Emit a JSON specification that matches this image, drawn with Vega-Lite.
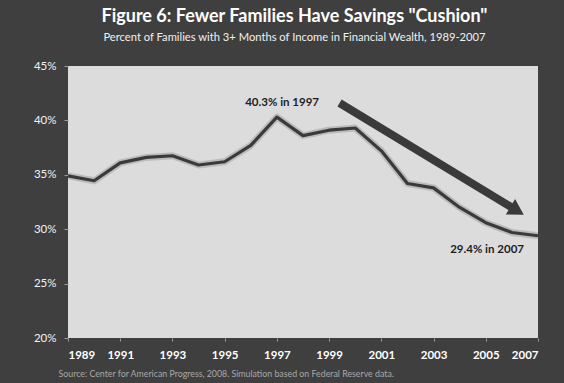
{
  "$schema": "https://vega.github.io/schema/vega-lite/v6.json",
  "autosize": {"type": "none"},
  "width": 470,
  "height": 272,
  "padding": {"left": 68, "top": 66, "right": 26, "bottom": 45},
  "background": "#3f3f3f",
  "title": {
    "text": "Figure 6: Fewer Families Have Savings \"Cushion\"",
    "subtitle": "Percent of Families with 3+ Months of Income in Financial Wealth, 1989-2007",
    "anchor": "middle",
    "frame": "bounds",
    "font": "Lato",
    "fontSize": 18,
    "fontWeight": "bold",
    "color": "#ffffff",
    "subtitleFont": "Lato",
    "subtitleFontSize": 11.2,
    "subtitleColor": "#f0f0f0",
    "subtitlePadding": 6,
    "offset": 17,
    "dx": 7
  },
  "datasets": {
    "series": [
      {"year": 1989, "pct": 0.349},
      {"year": 1990, "pct": 0.3445},
      {"year": 1991, "pct": 0.361},
      {"year": 1992, "pct": 0.366},
      {"year": 1993, "pct": 0.3675},
      {"year": 1994, "pct": 0.359},
      {"year": 1995, "pct": 0.362},
      {"year": 1996, "pct": 0.377},
      {"year": 1997, "pct": 0.403},
      {"year": 1998, "pct": 0.386},
      {"year": 1999, "pct": 0.391},
      {"year": 2000, "pct": 0.393},
      {"year": 2001, "pct": 0.372},
      {"year": 2002, "pct": 0.342},
      {"year": 2003, "pct": 0.338},
      {"year": 2004, "pct": 0.32},
      {"year": 2005, "pct": 0.306},
      {"year": 2006, "pct": 0.297},
      {"year": 2007, "pct": 0.294}
    ],
    "notes": [
      {"year": 1997.2, "pct": 0.416, "label": "40.3% in 1997"},
      {"year": 2005.05, "pct": 0.281, "label": "29.4% in 2007"}
    ],
    "arrow": [
      {"year": 1999.4, "pct": 0.416, "year2": 2006.2, "pct2": 0.317}
    ]
  },
  "layer": [
    {
      "data": {"name": "series"},
      "mark": {"type": "line", "color": "#000000", "opacity": 0.15, "strokeWidth": 7, "strokeJoin": "round"},
      "encoding": {
        "x": {"field": "year", "type": "quantitative", "scale": {"domain": [1989, 2007], "nice": false, "zero": false},
          "axis": {
            "values": [1989, 1991, 1993, 1995, 1997, 1999, 2001, 2003, 2005, 2007],
            "format": "d",
            "grid": false,
            "domain": false,
            "ticks": true,
            "tickSize": 3,
            "tickColor": "#9a9a9a",
            "labelFont": "Lato",
            "labelFontSize": 11.5,
            "labelFontWeight": "bold",
            "labelColor": "#ffffff",
            "labelPadding": 8,
            "title": "Source: Center for American Progress, 2008.  Simulation based on Federal Reserve data.",
            "titleFont": "Lato",
            "titleFontSize": 8.8,
            "titleFontWeight": "normal",
            "titleColor": "#a8a8a8",
            "titleAnchor": "start",
            "titleX": -10,
            "titlePadding": 9
          }},
        "y": {"field": "pct", "type": "quantitative", "scale": {"domain": [0.2, 0.45], "nice": false, "zero": false},
          "axis": {
            "values": [0.2, 0.25, 0.3, 0.35, 0.4, 0.45],
            "format": ".0%",
            "grid": false,
            "domain": false,
            "tickSize": 4,
            "tickColor": "#9a9a9a",
            "labelFont": "Lato",
            "labelFontSize": 11.5,
            "labelColor": "#f2f2f2",
            "labelPadding": 8,
            "title": null
          }}
      }
    },
    {
      "data": {"name": "series"},
      "mark": {"type": "line", "color": "#3a3a3a", "strokeWidth": 3.2, "strokeJoin": "round"},
      "encoding": {
        "x": {"field": "year", "type": "quantitative"},
        "y": {"field": "pct", "type": "quantitative"}
      }
    },
    {
      "data": {"name": "arrow"},
      "mark": {"type": "rule", "color": "#3a3a3a", "strokeWidth": 8, "strokeCap": "butt"},
      "encoding": {
        "x": {"field": "year", "type": "quantitative"},
        "y": {"field": "pct", "type": "quantitative"},
        "x2": {"field": "year2"},
        "y2": {"field": "pct2"}
      }
    },
    {
      "data": {"name": "arrow"},
      "mark": {"type": "point", "shape": "triangle-right", "filled": true, "color": "#3a3a3a", "opacity": 1, "size": 320, "angle": 31},
      "encoding": {
        "x": {"field": "year2", "type": "quantitative"},
        "y": {"field": "pct2", "type": "quantitative"}
      }
    },
    {
      "data": {"name": "notes"},
      "mark": {"type": "text", "font": "Lato", "fontSize": 11.5, "fontWeight": "bold", "color": "#1e1e1e", "align": "center", "baseline": "middle"},
      "encoding": {
        "x": {"field": "year", "type": "quantitative"},
        "y": {"field": "pct", "type": "quantitative"},
        "text": {"field": "label"}
      }
    }
  ],
  "config": {
    "view": {"fill": "#dcdcdc", "stroke": null}
  }
}
